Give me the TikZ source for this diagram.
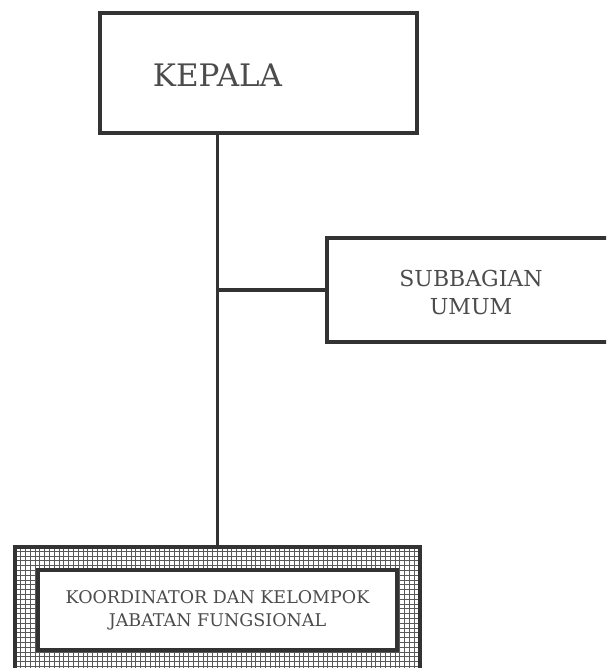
\documentclass[tikz,border=0pt]{standalone}
\usepackage{fontspec}
\setmainfont{DejaVu Serif}
\usetikzlibrary{positioning}

\begin{document}
\begin{tikzpicture}[x=1pt,y=-1pt,
    box/.style={draw=black!80,line width=3.5pt,fill=white,inner sep=0pt},
    label/.style={text=black!70,align=center,inner sep=0pt},
    hatched/.style={draw=black!80,line width=3.5pt,inner sep=0pt,
      path picture={\draw[black!65,line width=0.9pt,step=4.8pt]
        (path picture bounding box.south west) grid (path picture bounding box.north east);}},
    link/.style={draw=black!80,line width=3.5pt}]
  \useasboundingbox (0,0) rectangle (606,668);
  \clip (0,0) rectangle (606,668);
  \node[box,minimum width=317pt,minimum height=120pt] (kepala) at (258.5,73) {};
  \node[label,font=\fontsize{31}{34}\selectfont] (kepala-text) at (217.5,75) {KEPALA};
  \node[box,minimum width=313pt,minimum height=104pt] (umum) at (483.5,290) {};
  \node[label,font=\fontsize{22}{28}\selectfont] (umum-text) at (471,292) {SUBBAGIAN\\UMUM};
  \node[hatched,minimum width=405pt,minimum height=143pt] (koor-outer) at (217.5,618.5) {};
  \node[box,minimum width=359pt,minimum height=80pt,label,font=\fontsize{17.5}{23}\selectfont]
    (koor) at (217.5,610) {KOORDINATOR DAN KELOMPOK\\JABATAN FUNGSIONAL};
  \path[link] (kepala.south -| koor-outer.north) -- (koor-outer.north)
    (koor-outer.north |- umum.west) -- (umum.west);
\end{tikzpicture}
\end{document}
